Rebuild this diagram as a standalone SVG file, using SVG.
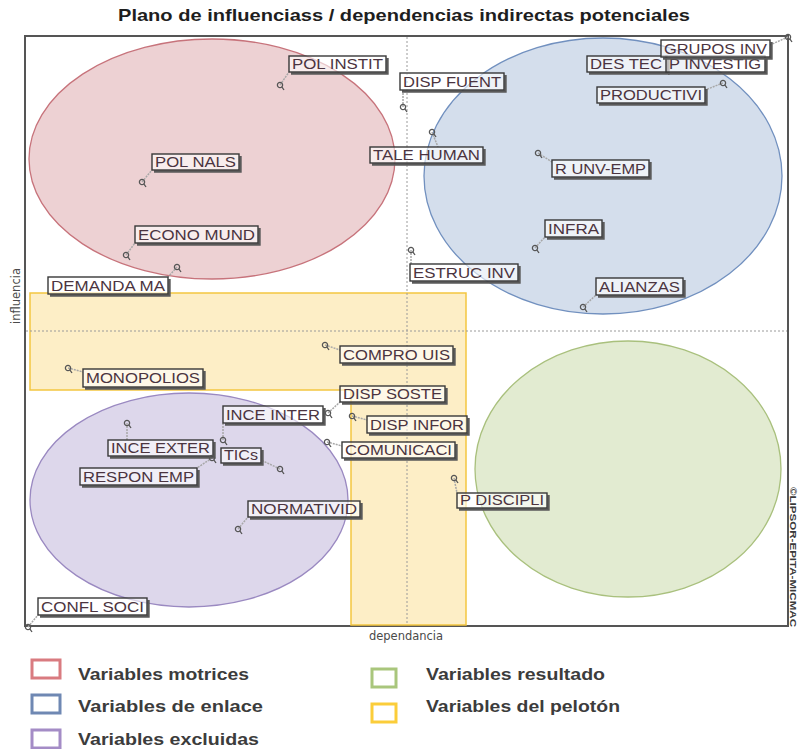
<svg xmlns="http://www.w3.org/2000/svg" width="804" height="749" viewBox="0 0 804 749">
  <style>
    .title { font-family: "Liberation Sans", Arial, sans-serif; font-weight: bold; font-size: 16.5px; fill: #1e1e1e; }
    .axis { font-family: "DejaVu Sans", "Liberation Sans", sans-serif; font-size: 11.5px; fill: #4a4a4a; }
    .copy { font-family: "Liberation Sans", Arial, sans-serif; font-weight: bold; font-size: 9px; fill: #3a3a3a; }
    .frame { fill: #ffffff; stroke: #555555; stroke-width: 2; }
    .mid { stroke: #9a9a9a; stroke-width: 1; stroke-dasharray: 2 2; fill: none; }
    .box { fill: #ffffff; fill-opacity: 0.6; stroke: #383838; stroke-width: 1.4; }
    .shadow { fill: none; stroke: #5a5a5a; stroke-width: 2.4; }
    .lbl { font-family: "Liberation Sans", Arial, sans-serif; font-size: 14px; fill: #4b3440; }
    .pt { fill: none; stroke: #555555; stroke-width: 1.3; }
    .link { stroke: #a8a8a8; stroke-width: 1.5; stroke-dasharray: 2 1; fill: none; }
    .legtxt { font-family: "Liberation Sans", Arial, sans-serif; font-size: 17px; font-weight: bold; fill: #3c3c3c; }
    .legbox { fill: none; stroke-width: 3; }
  </style>
  <defs>
    <!-- point symbol: small ring with a tail -->
    <g id="pt">
      <circle class="pt" cx="0" cy="0" r="2.6"/>
      <line class="pt" x1="1.8" y1="1.8" x2="4" y2="5"/>
    </g>
  </defs>

  <rect width="804" height="749" fill="#ffffff"/>

  <text class="title" x="404" y="21" text-anchor="middle" textLength="572" lengthAdjust="spacingAndGlyphs">Plano de influenciass / dependencias indirectas potenciales</text>

  <!-- plot area -->
  <rect class="frame" x="25" y="36" width="763" height="590"/>

  <!-- variable groups -->
  <g id="zones">
    <ellipse cx="212" cy="159" rx="183" ry="120" fill="#edd1d3" stroke="#c7737b" stroke-width="1.3"/>
    <ellipse cx="603" cy="176" rx="179" ry="138" fill="#d4deec" stroke="#7190bf" stroke-width="1.3"/>
    <ellipse cx="189" cy="500" rx="159" ry="107" fill="#ddd7eb" stroke="#9a89c1" stroke-width="1.3"/>
    <ellipse cx="628" cy="469" rx="153" ry="128" fill="#e2ebd1" stroke="#a9c07d" stroke-width="1.3"/>
    <path d="M30 293 H466 V625 H351 V390 H30 Z" fill="#fdeec6" stroke="#f4c640" stroke-width="1.5"/>
  </g>

  <!-- quadrant axes -->
  <line class="mid" x1="407" y1="37" x2="407" y2="625"/>
  <line class="mid" x1="26" y1="331" x2="787" y2="331"/>

  <text class="axis" transform="translate(20 296) rotate(-90)" text-anchor="middle">influencia</text>
  <text class="axis" x="406" y="640" text-anchor="middle">dependancia</text>
  <text class="copy" transform="translate(790 557) rotate(90)" text-anchor="middle" textLength="140" lengthAdjust="spacingAndGlyphs">©LIPSOR-EPITA-MICMAC</text>

  <!-- leader lines from points to labels -->
  <g id="connectors">
    <line class="link" x1="280" y1="85" x2="289" y2="72"/>
    <line class="link" x1="142" y1="182" x2="152" y2="170"/>
    <line class="link" x1="126" y1="255" x2="135" y2="243"/>
    <line class="link" x1="177" y1="267" x2="168" y2="277"/>
    <line class="link" x1="403" y1="107" x2="403" y2="90"/>
    <line class="link" x1="432" y1="132" x2="438" y2="147"/>
    <line class="link" x1="411" y1="250" x2="411" y2="264"/>
    <line class="link" x1="788" y1="37" x2="770" y2="45"/>
    <line class="link" x1="723" y1="83" x2="705" y2="90"/>
    <line class="link" x1="538" y1="153" x2="552" y2="162"/>
    <line class="link" x1="535" y1="248" x2="545" y2="237"/>
    <line class="link" x1="583" y1="307" x2="596" y2="295"/>
    <line class="link" x1="325" y1="345" x2="340" y2="350"/>
    <line class="link" x1="68" y1="368" x2="83" y2="372"/>
    <line class="link" x1="328" y1="413" x2="340" y2="402"/>
    <line class="link" x1="223" y1="440" x2="223" y2="423"/>
    <line class="link" x1="352" y1="416" x2="367" y2="420"/>
    <line class="link" x1="327" y1="442" x2="342" y2="446"/>
    <line class="link" x1="127" y1="423" x2="127" y2="440"/>
    <line class="link" x1="280" y1="469" x2="261" y2="460"/>
    <line class="link" x1="212" y1="458" x2="197" y2="468"/>
    <line class="link" x1="238" y1="529" x2="248" y2="517"/>
    <line class="link" x1="28" y1="627" x2="38" y2="615"/>
    <line class="link" x1="454" y1="478" x2="457" y2="493"/>
  </g>

  <!-- variables -->
  <g id="pol-instit"><use href="#pt" x="280" y="85"/><path class="shadow" d="M387.5 58 V73.5 H291"/><rect class="box" x="289" y="56" width="97" height="16"/><text class="lbl" x="292" y="69" textLength="91" lengthAdjust="spacingAndGlyphs">POL INSTIT</text></g>
  <g id="pol-nals"><use href="#pt" x="142" y="182"/><path class="shadow" d="M240.5 156 V171.5 H154"/><rect class="box" x="152" y="154" width="87" height="16"/><text class="lbl" x="155" y="167" textLength="81" lengthAdjust="spacingAndGlyphs">POL NALS</text></g>
  <g id="econo-mund"><use href="#pt" x="126" y="255"/><path class="shadow" d="M259.5 228 V244.5 H137"/><rect class="box" x="135" y="226" width="123" height="17"/><text class="lbl" x="138" y="240" textLength="117" lengthAdjust="spacingAndGlyphs">ECONO MUND</text></g>
  <g id="demanda-ma"><use href="#pt" x="177" y="267"/><path class="shadow" d="M169.5 279 V295.5 H50"/><rect class="box" x="48" y="277" width="120" height="17"/><text class="lbl" x="51" y="291" textLength="114" lengthAdjust="spacingAndGlyphs">DEMANDA MA</text></g>
  <g id="disp-fuent"><use href="#pt" x="403" y="107"/><path class="shadow" d="M505.5 75 V91.5 H402"/><rect class="box" x="400" y="73" width="104" height="17"/><text class="lbl" x="403" y="87" textLength="98" lengthAdjust="spacingAndGlyphs">DISP FUENT</text></g>
  <g id="tale-human"><use href="#pt" x="432" y="132"/><path class="shadow" d="M484.5 149 V164.5 H372"/><rect class="box" x="370" y="147" width="113" height="16"/><text class="lbl" x="373" y="160" textLength="107" lengthAdjust="spacingAndGlyphs">TALE HUMAN</text></g>
  <g id="estruc-inv"><use href="#pt" x="411" y="250"/><path class="shadow" d="M519.5 266 V282.5 H412"/><rect class="box" x="410" y="264" width="108" height="17"/><text class="lbl" x="413" y="278" textLength="102" lengthAdjust="spacingAndGlyphs">ESTRUC INV</text></g>
  <g id="des-tec"><path class="shadow" d="M668.5 58 V73.5 H589"/><rect class="box" x="587" y="56" width="80" height="16"/><text class="lbl" x="590" y="69" textLength="72" lengthAdjust="spacingAndGlyphs">DES TEC</text></g>
  <g id="p-investig"><path class="shadow" d="M766.5 58 V73.5 H668"/><rect class="box" x="666" y="56" width="99" height="16"/><text class="lbl" x="669" y="69" textLength="92" lengthAdjust="spacingAndGlyphs">P INVESTIG</text></g>
  <g id="grupos-inv"><use href="#pt" x="788" y="37"/><path class="shadow" d="M771.5 42 V58.5 H663"/><rect class="box" x="661" y="40" width="109" height="17"/><text class="lbl" x="664" y="54" textLength="103" lengthAdjust="spacingAndGlyphs">GRUPOS INV</text></g>
  <g id="productivi"><use href="#pt" x="723" y="83"/><path class="shadow" d="M706.5 89 V104.5 H599"/><rect class="box" x="597" y="87" width="108" height="16"/><text class="lbl" x="600" y="100" textLength="102" lengthAdjust="spacingAndGlyphs">PRODUCTIVI</text></g>
  <g id="r-unv-emp"><use href="#pt" x="538" y="153"/><path class="shadow" d="M650.5 162 V178.5 H554"/><rect class="box" x="552" y="160" width="97" height="17"/><text class="lbl" x="555" y="174" textLength="91" lengthAdjust="spacingAndGlyphs">R UNV-EMP</text></g>
  <g id="infra"><use href="#pt" x="535" y="248"/><path class="shadow" d="M603.5 222 V238.5 H547"/><rect class="box" x="545" y="220" width="57" height="17"/><text class="lbl" x="548" y="234" textLength="51" lengthAdjust="spacingAndGlyphs">INFRA</text></g>
  <g id="alianzas"><use href="#pt" x="583" y="307"/><path class="shadow" d="M684.5 280 V296.5 H598"/><rect class="box" x="596" y="278" width="87" height="17"/><text class="lbl" x="599" y="292" textLength="81" lengthAdjust="spacingAndGlyphs">ALIANZAS</text></g>
  <g id="compro-uis"><use href="#pt" x="325" y="345"/><path class="shadow" d="M454.5 348 V364.5 H342"/><rect class="box" x="340" y="346" width="113" height="17"/><text class="lbl" x="343" y="360" textLength="107" lengthAdjust="spacingAndGlyphs">COMPRO UIS</text></g>
  <g id="monopolios"><use href="#pt" x="68" y="368"/><path class="shadow" d="M204.5 371 V388.5 H85"/><rect class="box" x="83" y="369" width="120" height="18"/><text class="lbl" x="86" y="383" textLength="114" lengthAdjust="spacingAndGlyphs">MONOPOLIOS</text></g>
  <g id="disp-soste"><use href="#pt" x="328" y="413"/><path class="shadow" d="M446.5 388 V403.5 H342"/><rect class="box" x="340" y="386" width="105" height="16"/><text class="lbl" x="343" y="399" textLength="99" lengthAdjust="spacingAndGlyphs">DISP SOSTE</text></g>
  <g id="ince-inter"><use href="#pt" x="223" y="440"/><path class="shadow" d="M324.5 408 V424.5 H225"/><rect class="box" x="223" y="406" width="100" height="17"/><text class="lbl" x="226" y="420" textLength="94" lengthAdjust="spacingAndGlyphs">INCE INTER</text></g>
  <g id="disp-infor"><use href="#pt" x="352" y="416"/><path class="shadow" d="M468.5 418 V434.5 H369"/><rect class="box" x="367" y="416" width="100" height="17"/><text class="lbl" x="370" y="430" textLength="94" lengthAdjust="spacingAndGlyphs">DISP INFOR</text></g>
  <g id="comunicaci"><use href="#pt" x="327" y="442"/><path class="shadow" d="M456.5 444 V459.5 H344"/><rect class="box" x="342" y="442" width="113" height="16"/><text class="lbl" x="345" y="455" textLength="107" lengthAdjust="spacingAndGlyphs">COMUNICACI</text></g>
  <g id="ince-exter"><use href="#pt" x="127" y="423"/><path class="shadow" d="M214.5 442 V457.5 H110"/><rect class="box" x="108" y="440" width="105" height="16"/><text class="lbl" x="111" y="453" textLength="99" lengthAdjust="spacingAndGlyphs">INCE EXTER</text></g>
  <g id="tics"><use href="#pt" x="280" y="469"/><path class="shadow" d="M262.5 450 V464.5 H223"/><rect class="box" x="221" y="448" width="40" height="15"/><text class="lbl" x="224" y="460" textLength="34" lengthAdjust="spacingAndGlyphs">TICs</text></g>
  <g id="respon-emp"><use href="#pt" x="212" y="458"/><path class="shadow" d="M198.5 470 V486.5 H82"/><rect class="box" x="80" y="468" width="117" height="17"/><text class="lbl" x="83" y="482" textLength="111" lengthAdjust="spacingAndGlyphs">RESPON EMP</text></g>
  <g id="normativid"><use href="#pt" x="238" y="529"/><path class="shadow" d="M361.5 503 V518.5 H250"/><rect class="box" x="248" y="501" width="112" height="16"/><text class="lbl" x="251" y="514" textLength="106" lengthAdjust="spacingAndGlyphs">NORMATIVID</text></g>
  <g id="confl-soci"><use href="#pt" x="28" y="627"/><path class="shadow" d="M148.5 600 V616.5 H40"/><rect class="box" x="38" y="598" width="109" height="17"/><text class="lbl" x="41" y="612" textLength="103" lengthAdjust="spacingAndGlyphs">CONFL SOCI</text></g>
  <g id="p-discipli"><use href="#pt" x="454" y="478"/><path class="shadow" d="M548.5 495 V509.5 H459"/><rect class="box" x="457" y="493" width="90" height="15"/><text class="lbl" x="460" y="505" textLength="84" lengthAdjust="spacingAndGlyphs">P DISCIPLI</text></g>

  <!-- legend -->
  <g id="legend">
    <rect class="legbox" x="32" y="660" width="28" height="18" stroke="#d97b80"/>
    <text class="legtxt" x="78" y="680" textLength="171" lengthAdjust="spacingAndGlyphs">Variables motrices</text>
    <rect class="legbox" x="32" y="695" width="28" height="18" stroke="#6f88b3"/>
    <text class="legtxt" x="78" y="712" textLength="185" lengthAdjust="spacingAndGlyphs">Variables de enlace</text>
    <rect class="legbox" x="32" y="730" width="28" height="18" stroke="#a48cc6"/>
    <text class="legtxt" x="78" y="745" textLength="181" lengthAdjust="spacingAndGlyphs">Variables excluidas</text>
    <rect class="legbox" x="372" y="669" width="24" height="18" stroke="#a9c67c"/>
    <text class="legtxt" x="426" y="680" textLength="179" lengthAdjust="spacingAndGlyphs">Variables resultado</text>
    <rect class="legbox" x="372" y="704" width="24" height="18" stroke="#fbcd3a"/>
    <text class="legtxt" x="426" y="712" textLength="194" lengthAdjust="spacingAndGlyphs">Variables del pelotón</text>
  </g>
</svg>
